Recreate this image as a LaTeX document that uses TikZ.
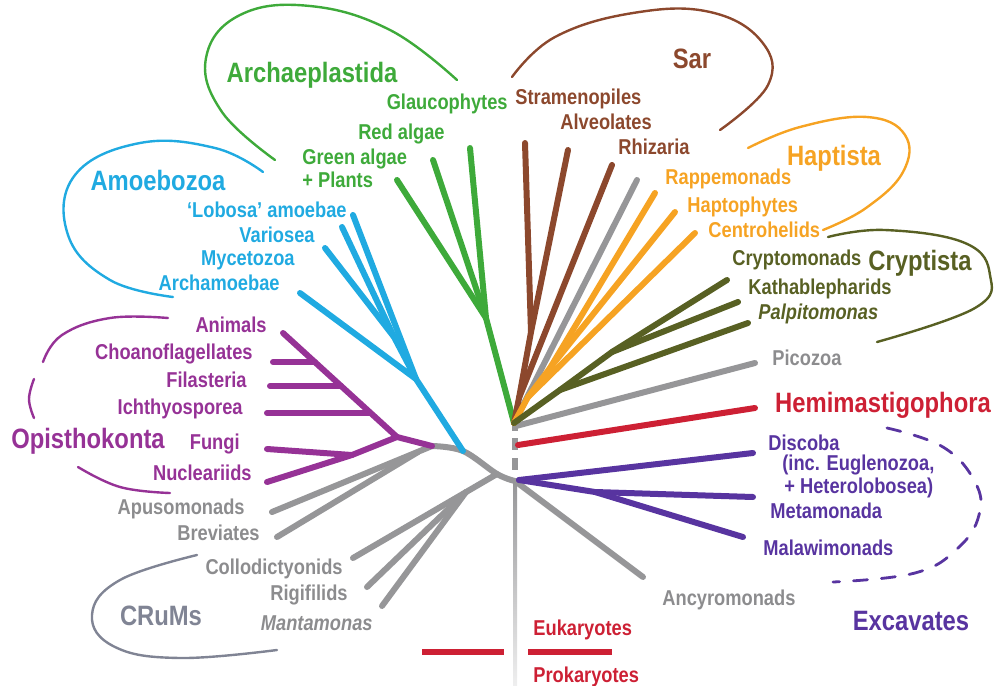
\documentclass[tikz,border=0pt]{standalone}
\usepackage{fontspec}
\setmainfont{Liberation Sans}[FakeStretch=0.85]
\definecolor{cgreen}{RGB}{62,170,58}
\definecolor{cbrown}{RGB}{140,72,45}
\definecolor{corange}{RGB}{246,163,35}
\definecolor{colive}{RGB}{88,96,35}
\definecolor{cgrey}{RGB}{150,150,152}
\definecolor{tgrey}{RGB}{140,140,142}
\definecolor{cred}{RGB}{205,32,52}
\definecolor{cexc}{RGB}{88,52,160}
\definecolor{copis}{RGB}{150,50,150}
\definecolor{cblue}{RGB}{32,170,225}
\definecolor{ccrum}{RGB}{128,132,148}
\begin{document}
\begin{tikzpicture}[x=0.5pt,y=-0.5pt,
  br/.style={line width=3pt,line cap=round,line join=round},
  lbl/.style={inner sep=0pt,font=\fontsize{10.75}{12}\selectfont\bfseries},
  big/.style={inner sep=0pt,font=\fontsize{14}{16}\selectfont\bfseries},
  grouploop/.style={line width=1.2pt,line cap=round}]
\useasboundingbox (0,0) rectangle (997,686);

% ---- tree coordinates
\coordinate (D) at (514,423);
\coordinate (Dg) at (516,426);
\coordinate (E) at (515,481);
% Archaeplastida
\coordinate (G1) at (486,318);
\coordinate (Gl) at (470,148);
\coordinate (Ra) at (433,160);
\coordinate (Ga) at (397,180);
% Sar
\coordinate (S0) at (519,398);
\coordinate (S1) at (531,332);
\coordinate (St) at (525,143);
\coordinate (Al) at (568,150);
\coordinate (Rh) at (612,165);
\coordinate (Te) at (637,180);
% Haptista
\coordinate (H0) at (528,397);
\coordinate (H1) at (550,368);
\coordinate (Rp) at (655,193);
\coordinate (Hp) at (675,212);
\coordinate (Ce) at (695,233);
% Cryptista
\coordinate (K0) at (560,390);
\coordinate (K1) at (612,352);
\coordinate (Cm) at (727,280);
\coordinate (Ka) at (738,302);
\coordinate (Pa) at (748,323);
% Picozoa, Hemimastigophora
\coordinate (Pi) at (755,363);
\coordinate (Hm0) at (518,445);
\coordinate (Hm1) at (755,408);
% Excavates
\coordinate (X0) at (519,480);
\coordinate (X1) at (595,492);
\coordinate (Di) at (753,453);
\coordinate (Me) at (753,497);
\coordinate (Ma) at (743,537);
\coordinate (An) at (643,577);
% left backbone
\coordinate (C1) at (497,474);
\coordinate (A0) at (463,451);
\coordinate (O) at (432,446);
% CRuMs
\coordinate (C2) at (466,492);
\coordinate (Co) at (353,558);
\coordinate (Ri) at (367,587);
\coordinate (Mt) at (382,606);
% Apusomonads, Breviates
\coordinate (B1) at (418,452);
\coordinate (Ap) at (272,512);
\coordinate (Bv) at (277,537);
% Opisthokonta
\coordinate (P1) at (397,437);
\coordinate (F) at (352,455);
\coordinate (Fu) at (267,449);
\coordinate (Nu) at (267,482);
\coordinate (Am) at (283,333);
\coordinate (Ch) at (273,362);
\coordinate (Ch1) at (315,362);
\coordinate (Fi) at (270,386);
\coordinate (Fi1) at (341,386);
\coordinate (Ic) at (267,413);
\coordinate (Ic1) at (370,413);
% Amoebozoa
\coordinate (A1) at (416,379);
\coordinate (A2) at (394,337);
\coordinate (Ar) at (300,293);
\coordinate (Lo) at (353,215);
\coordinate (My) at (325,248);
\coordinate (Va) at (342,227);

% ---- grey stem
\shade[top color=cgrey,bottom color=cgrey!15] (513,481) rectangle (517,686);
\draw[cgrey,line width=3pt,dash pattern=on 3.5pt off 3.5pt on 6pt off 4pt on 6pt off 10pt] (515,424) -- (515,472);

% ---- grey branches
\draw[br,cgrey] plot[smooth,tension=0.6] coordinates {(E) (C1) (A0) (O)};
\draw[br,cgrey] (E) -- (An);
\draw[br,cgrey] (C1) -- (Co);
\draw[br,cgrey] (C2) -- (Ri);
\draw[br,cgrey] (C2) -- (Mt);
\draw[br,cgrey] (O) -- (Ap);
\draw[br,cgrey] (B1) -- (Bv);
\draw[br,cgrey] (D) -- (Te);
\draw[br,cgrey] (Dg) -- (Pi);

% ---- Archaeplastida
\draw[br,cgreen] (D) -- (G1) -- (Gl);
\draw[br,cgreen] (G1) -- (Ra);
\draw[br,cgreen] (G1) -- (Ga);
% ---- Sar
\draw[br,cbrown] (D) -- (S0) -- (S1) -- (St);
\draw[br,cbrown] (S1) -- (Al);
\draw[br,cbrown] (S0) -- (Rh);
% ---- Haptista
\draw[br,corange] (D) -- (H0) -- (H1) -- (Rp);
\draw[br,corange] (H1) -- (Hp);
\draw[br,corange] (H0) -- (Ce);
% ---- Cryptista
\draw[br,colive] (D) -- (K0) -- (K1) -- (Cm);
\draw[br,colive] (K1) -- (Ka);
\draw[br,colive] (K0) -- (Pa);
% ---- Hemimastigophora
\draw[br,cred] (Hm0) -- (Hm1);
% ---- Excavates
\draw[br,cexc] (X0) -- (Di);
\draw[br,cexc] (X0) -- (X1) -- (Me);
\draw[br,cexc] (X1) -- (Ma);
% ---- Opisthokonta
\draw[br,copis] (O) -- (P1) -- (F) -- (Fu);
\draw[br,copis] (F) -- (Nu);
\draw[br,copis] (P1) -- (Am);
\draw[br,copis] (Ch) -- (Ch1);
\draw[br,copis] (Fi) -- (Fi1);
\draw[br,copis] (Ic) -- (Ic1);
% ---- Amoebozoa
\draw[br,cblue] (A0) -- (A1) -- (Ar);
\draw[br,cblue] (A1) -- (Lo);
\draw[br,cblue] (A1) -- (A2) -- (My);
\draw[br,cblue] (A2) -- (Va);

% ---- Eukaryotes / Prokaryotes bars
\draw[cred,line width=3pt] (422,652) -- (504,652);
\draw[cred,line width=3pt] (528,652) -- (612,652);

% ---- group loops
\draw[grouploop,cgreen] plot[smooth,tension=0.7] coordinates {(275,160) (222,112) (206,58) (240,15) (310,6) (390,30) (457,80)};
\draw[grouploop,cblue] plot[smooth,tension=0.7] coordinates {(263,172) (215,148) (140,143) (75,175) (68,235) (110,280) (173,297)};
\draw[grouploop,copis] plot[smooth,tension=0.7] coordinates {(168,318) (110,318) (62,335) (43,362)};
\draw[grouploop,copis] plot[smooth,tension=0.7] coordinates {(34,379) (29,399) (34,418)};
\draw[grouploop,copis] plot[smooth,tension=0.7] coordinates {(78,467) (120,487) (170,493)};
\draw[grouploop,ccrum] plot[smooth,tension=0.7] coordinates {(197,555) (120,580) (92,615) (115,647) (180,658) (277,650)};
\draw[grouploop,cbrown] plot[smooth,tension=0.7] coordinates {(512,77) (555,37) (633,13) (710,12) (762,42) (768,85) (720,130)};
\draw[grouploop,corange] plot[smooth,tension=0.7] coordinates {(748,148) (800,127) (867,117) (905,135) (903,172) (866,208) (823,230)};
\draw[grouploop,colive] plot[smooth,tension=0.7] coordinates {(828,237) (885,230) (965,243) (990,275) (975,308) (877,342)};
\draw[grouploop,cexc,line width=1.4pt,dash pattern=on 7pt off 7pt] plot[smooth,tension=0.7] coordinates {(887,428) (943,447) (975,482) (979,515) (958,548) (915,573) (833,582)};

% ---- group titles
\node[big,cgreen,anchor=base] (tArch) at (312,82) {Archaeplastida};
\node[big,cblue,anchor=base] (tAmoe) at (158,190) {Amoebozoa};
\node[big,copis,anchor=base] (tOpis) at (88,448) {Opisthokonta};
\node[big,ccrum,anchor=base] (tCrum) at (161,625) {CRuMs};
\node[big,cbrown,anchor=base] (tSar) at (692,68) {Sar};
\node[big,corange,anchor=base] (tHapt) at (834,165) {Haptista};
\node[big,colive,anchor=base] (tCryp) at (920,270) {Cryptista};
\node[big,cred,anchor=base] (tHemi) at (883,412) {Hemimastigophora};
\node[big,cexc,anchor=base] (tExca) at (911,630) {Excavates};

% ---- leaf labels, left
\node[lbl,cgreen,anchor=base east] (lGl) at (508,109) {Glaucophytes};
\node[lbl,cgreen,anchor=base east] (lRa) at (445,139) {Red algae};
\node[lbl,cgreen,anchor=north west,align=left,font=\fontsize{10.75}{9.5}\selectfont\bfseries] (lGa) at (302,149) {Green algae\\+ Plants};
\node[lbl,cblue,anchor=base east] (lLo) at (347,217) {‘Lobosa’ amoebae};
\node[lbl,cblue,anchor=base east] (lVa) at (315,242) {Variosea};
\node[lbl,cblue,anchor=base east] (lMy) at (295,265) {Mycetozoa};
\node[lbl,cblue,anchor=base east] (lAr) at (280,290) {Archamoebae};
\node[lbl,copis,anchor=base east] (lAm) at (267,332) {Animals};
\node[lbl,copis,anchor=base east] (lCh) at (253,359) {Choanoflagellates};
\node[lbl,copis,anchor=base east] (lFi) at (247,387) {Filasteria};
\node[lbl,copis,anchor=base east] (lIc) at (243,414) {Ichthyosporea};
\node[lbl,copis,anchor=base east] (lFu) at (240,449) {Fungi};
\node[lbl,copis,anchor=base east] (lNu) at (252,480) {Nucleariids};
\node[lbl,tgrey,anchor=base east] (lAp) at (245,514) {Apusomonads};
\node[lbl,tgrey,anchor=base east] (lBv) at (260,540) {Breviates};
\node[lbl,tgrey,anchor=base east] (lCo) at (343,574) {Collodictyonids};
\node[lbl,tgrey,anchor=base east] (lRi) at (348,600) {Rigifilids};
\node[lbl,tgrey,anchor=base east,font=\fontsize{10.75}{12}\selectfont\bfseries\itshape] (lMt) at (373,630) {Mantamonas};

% ---- leaf labels, right
\node[lbl,cbrown,anchor=base west] (lSt) at (515,104) {Stramenopiles};
\node[lbl,cbrown,anchor=base west] (lAl) at (560,129) {Alveolates};
\node[lbl,cbrown,anchor=base west] (lRh) at (618,154) {Rhizaria};
\node[lbl,corange,anchor=base west] (lRp) at (665,184) {Rappemonads};
\node[lbl,corange,anchor=base west] (lHp) at (687,212) {Haptophytes};
\node[lbl,corange,anchor=base west] (lCe) at (708,237) {Centrohelids};
\node[lbl,colive,anchor=base west] (lCm) at (732,265) {Cryptomonads};
\node[lbl,colive,anchor=base west] (lKa) at (748,294) {Kathablepharids};
\node[lbl,colive,anchor=base west,font=\fontsize{10.75}{12}\selectfont\bfseries\itshape] (lPa) at (758,319) {Palpitomonas};
\node[lbl,tgrey,anchor=base west] (lPi) at (772,365) {Picozoa};
\node[lbl,cexc,anchor=north west,align=left,font=\fontsize{10.75}{10}\selectfont\bfseries] (lDi) at (768,435) {Discoba\\\hspace*{7pt}(inc. Euglenozoa,\\\hspace*{8pt}+ Heterolobosea)};
\node[lbl,cexc,anchor=base west] (lMe) at (770,518) {Metamonada};
\node[lbl,cexc,anchor=base west] (lMa) at (763,555) {Malawimonads};
\node[lbl,tgrey,anchor=base west] (lAn) at (662,605) {Ancyromonads};
\node[lbl,cred,anchor=base west] (lEu) at (533,635) {Eukaryotes};
\node[lbl,cred,anchor=base west] (lPr) at (533,682) {Prokaryotes};
\end{tikzpicture}
\end{document}
